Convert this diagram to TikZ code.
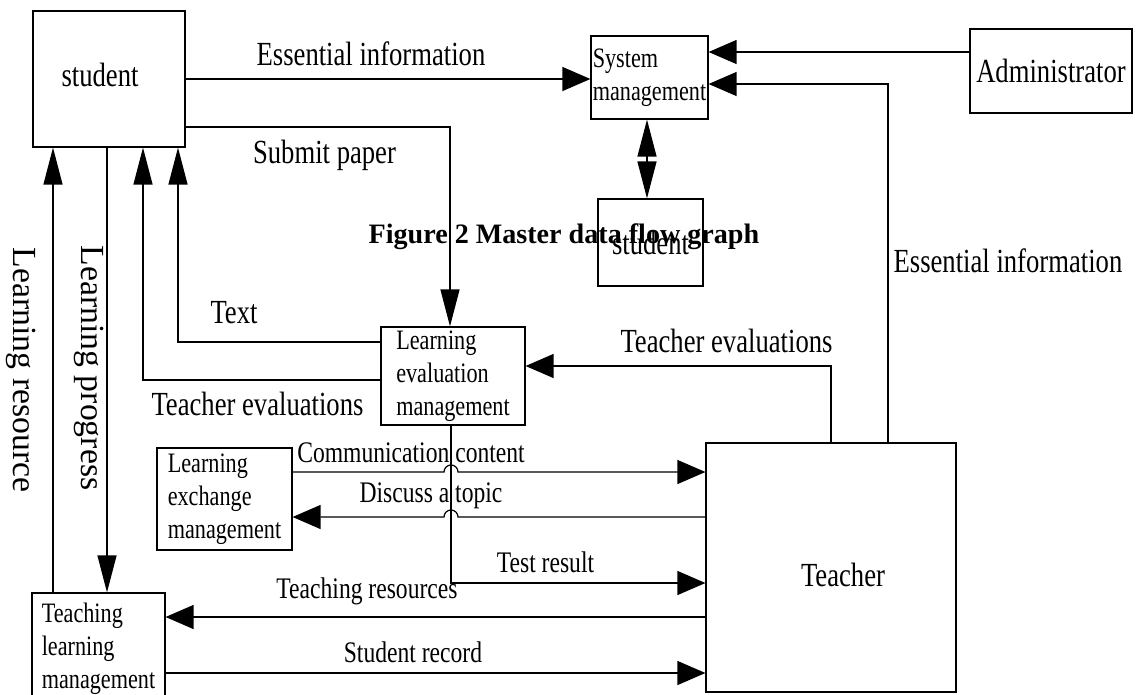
\documentclass[tikz,border=0pt]{standalone}
\usepackage{fontspec}
\setmainfont{Liberation Serif}[FakeStretch=0.79]
\newfontfamily\plainserif{Liberation Serif}
\usetikzlibrary{arrows.meta,positioning}

\begin{document}
\begin{tikzpicture}[x=0.02cm,y=-0.02cm,line width=0.7pt,
  box/.style={draw,inner sep=1pt,align=left,font=\fontsize{16}{18.8}\selectfont},
  big/.style={inner sep=0pt,font=\fontsize{19.2}{23}\selectfont},
  small/.style={inner sep=0pt,font=\fontsize{17}{20}\selectfont},
  side/.style={inner sep=0pt,rotate=-90,anchor=base,font=\plainserif\fontsize{19.2}{23}\selectfont},
  harr/.style={-{Triangle[length=0.56cm,width=0.48cm]}},
  varr/.style={-{Triangle[length=0.74cm,width=0.38cm]}},
  vboth/.style={{Triangle[length=0.74cm,width=0.38cm]}-{Triangle[length=0.74cm,width=0.38cm]}}]
\useasboundingbox (0,0) rectangle (1137,694);
\node[box,big,minimum width=3.04cm,minimum height=2.72cm] (student) at (109,79) {\raisebox{0.08cm}[\height][\depth]{student}\hspace*{0.36cm}};
\node[box,minimum width=2.3cm,minimum height=1.66cm] (sysm) at (649.5,77.5) {System\\management};
\node[box,big,minimum width=3.24cm,minimum height=1.68cm] (admin) at (1051,71) {Administrator};
\node[box,big,minimum width=2.1cm,minimum height=1.74cm] (studentb) at (650.5,242.5) {student};
\node[box,minimum width=2.88cm,minimum height=1.96cm] (learneval) at (453,376) {Learning\\evaluation\\management};
\node[box,minimum width=2.7cm,minimum height=2.04cm] (lexch) at (224.5,499) {Learning\\exchange\\management};
\node[box,minimum width=2.66cm,minimum height=2.24cm] (tlm) at (98.5,649) {Teaching\\learning\\management};
\node[box,big,minimum width=5cm,minimum height=4.98cm] (teacher) at (831,567.5) {\hspace*{0.48cm}\raisebox{-0.14cm}[\height][\depth]{Teacher}};

\node[big,anchor=base] (essinfo) at (371,65) {Essential information};
\node[big,anchor=base] (submit) at (324.5,163) {Submit paper};
\node[big,anchor=base] (textlbl) at (234,323) {Text};
\node[big,anchor=base] (evalleft) at (257.5,415) {Teacher evaluations};
\node[big,anchor=base] (evalright) at (726.5,352) {Teacher evaluations};
\node[big,anchor=base west] (essright) at (893,272) {Essential information};
\node[small,anchor=base] (commlbl) at (411,462) {Communication content};
\node[small,anchor=base] (discusslbl) at (431,502) {Discuss a topic};
\node[small,anchor=base] (testlbl) at (545.5,572) {Test result};
\node[small,anchor=base] (teachreslbl) at (367,598) {Teaching resources};
\node[small,anchor=base] (recordlbl) at (413,662) {Student record};
\node[side] (resourcelbl) at (13,370) {Learning resource};
\node[side] (progresslbl) at (81,368) {Learning progress};

\draw[harr] (student.east |- 0,79) -- (sysm.west |- 0,79);
\draw[harr] (admin.west |- 0,52) -- (sysm.east |- 0,52);
\draw[harr] (teacher.north -| 888,0) |- (sysm.east |- 0,84);
\draw[vboth] (sysm.south -| 647,0) -- (studentb.north -| 647,0);
\draw[varr] (student.east |- 0,127) -| (learneval.north -| 450,0);
\draw[varr] (learneval.west |- 0,342) -| (student.south -| 178,0);
\draw[varr] (learneval.west |- 0,380) -| (student.south -| 143,0);
\draw[varr] (tlm.north -| 53,0) -- (student.south -| 53,0);
\draw[varr] (student.south -| 107,0) -- (tlm.north -| 107,0);
\draw[harr] (teacher.north -| 831,0) |- (learneval.east |- 0,366);
\draw[harr] (lexch.east |- 0,472) -- (444,472) arc[start angle=180,end angle=360,radius=7] -- (teacher.west |- 0,472);
\draw[harr] (teacher.west |- 0,517) -- (458,517) arc[start angle=0,end angle=-180,radius=7] -- (lexch.east |- 0,517);
\draw[harr] (learneval.south -| 451,0) |- (teacher.west |- 0,583);
\draw[harr] (teacher.west |- 0,617) -- (tlm.east |- 0,617);
\draw[harr] (tlm.east |- 0,673) -- (teacher.west |- 0,673);

\node[anchor=base west,inner sep=0pt,font=\plainserif\bfseries\fontsize{16}{19}\selectfont] (caption) at (368,243) {Figure 2 Master data flow graph};
\end{tikzpicture}
\end{document}
